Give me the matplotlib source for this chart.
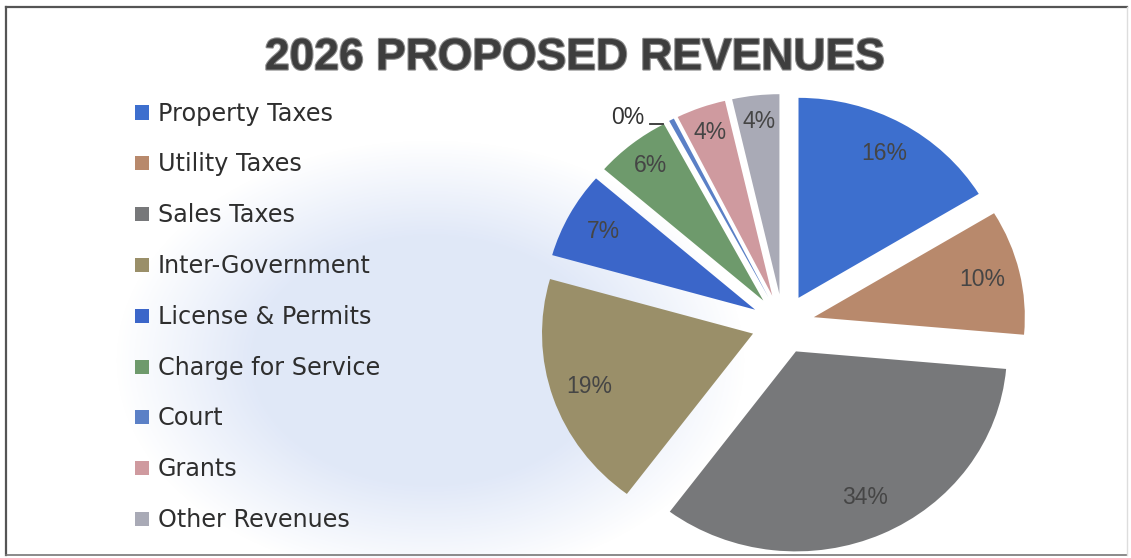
import numpy as np
import matplotlib
matplotlib.use("Agg")
import matplotlib.pyplot as plt
from matplotlib.patches import Rectangle
from matplotlib.lines import Line2D
import matplotlib.patheffects as pe

# Revenue shares (percent of total)
categories = ["Property Taxes", "Utility Taxes", "Sales Taxes", "Inter-Government",
              "License & Permits", "Charge for Service", "Court", "Grants", "Other Revenues"]
shares = [16.3, 10.1, 33.8, 19.2, 7.0, 5.8, 0.4, 3.8, 3.6]
colors = ["#3d6fce", "#b8896c", "#77787a", "#9a8f69", "#3b66c9",
          "#6e9a6c", "#5b80c6", "#cf9a9f", "#a9aab6"]
title = "2026 PROPOSED REVENUES"

W, H = 1131, 558
fig = plt.figure(figsize=(W / 100, H / 100), dpi=100)
fig.patch.set_facecolor("white")

# soft blue wash behind the legend / left part of the pie
bg = fig.add_axes([0, 0, 1, 1], zorder=0)
bg.set_xlim(0, W)
bg.set_ylim(H, 0)
bg.axis("off")
yy, xx = np.mgrid[0:H, 0:W]
d = np.sqrt(((xx - 430) / 300.0) ** 2 + ((yy - 360) / 210.0) ** 2)
alpha = np.clip((1.05 - d) * 2.2, 0, 1) * 0.55
img = np.zeros((H, W, 4))
img[..., 0] = 200 / 255
img[..., 1] = 214 / 255
img[..., 2] = 242 / 255
img[..., 3] = alpha
bg.imshow(img, extent=(0, W, H, 0), interpolation="bilinear")
# frame
bg.add_line(Line2D([6, 1127], [7, 7], color="#555555", lw=1.6))
bg.add_line(Line2D([6, 6], [7, 555], color="#555555", lw=1.6))
bg.add_line(Line2D([6, 1127], [555, 555], color="#777777", lw=1.2))
bg.add_line(Line2D([1127, 1127], [7, 555], color="#dddddd", lw=1.0))

# pie axes (slightly wider than tall)
cx, cy, rx, ry, lim = 783, 324, 211, 200, 1.25
ax = fig.add_axes([(cx - lim * rx) / W, (H - cy - lim * ry) / H,
                   2 * lim * rx / W, 2 * lim * ry / H], zorder=2)
explode = [0.15] * len(shares)
wedges, _ = ax.pie(shares, colors=colors, startangle=90, counterclock=False,
                   explode=explode, radius=1.0,
                   wedgeprops=dict(linewidth=0))
ax.set_aspect("auto")
ax.set_xlim(-lim, lim)
ax.set_ylim(-lim, lim)
ax.axis("off")

label_dist = [0.83, 0.82, 0.80, 0.82, 0.82, 0.86, None, 0.87, 0.87]
for w, v, dist in zip(wedges, shares, label_dist):
    th = np.deg2rad((w.theta1 + w.theta2) / 2)
    ox, oy = w.center
    txt = f"{v:.0f}%"
    if dist is None:
        # tiny slice: label sits outside with a short leader
        ex = ox + 1.0 * np.cos(th)
        ey = oy + 1.0 * np.sin(th)
        ax.plot([ex - 0.04, ex - 0.10], [ey - 0.02, ey - 0.02], color="#333333", lw=1.3)
        ax.text(ex - 0.13, ey + 0.01, txt, ha="right", va="center",
                fontsize=16.5, color="#333333", family="Liberation Sans")
        continue
    ax.text(ox + dist * np.cos(th), oy + dist * np.sin(th), txt,
            ha="center", va="center", fontsize=16.5, color="#454545",
            family="Liberation Sans")

# title
fig.text(575 / W, 1 - 58 / H, title, ha="center", va="center",
         fontsize=32, fontweight="bold", color="#3e3e3e",
         family=["Liberation Sans", "DejaVu Sans"],
         path_effects=[pe.withStroke(linewidth=1.6, foreground="#8c8c8c")], zorder=5)

# legend
base0, step = 120.5, 50.8
for i, (name, col) in enumerate(zip(categories, colors)):
    yb = base0 + i * step
    fig.patches.append(Rectangle((135 / W, 1 - (yb - 1) / H), 14 / W, 14 / H,
                                 transform=fig.transFigure, facecolor=col,
                                 edgecolor="none", zorder=5))
    fig.text(158 / W, 1 - yb / H, name, ha="left", va="baseline", fontsize=17.2,
             color="#2e2e2e", family=["DejaVu Sans"], zorder=5)

fig.savefig("out.png", dpi=100, facecolor="white")
